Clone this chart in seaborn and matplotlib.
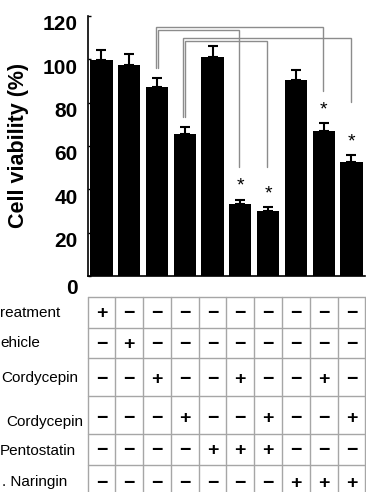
import numpy as np
import pandas as pd
import matplotlib
matplotlib.use("Agg")
import matplotlib.pyplot as plt
import matplotlib.transforms as mtransforms
import seaborn as sns

# ---------------- data ----------------
groups = ["1", "2", "3", "4", "5", "6", "7", "8", "9", "10"]
viability = [99.5, 97.5, 87.1, 65.4, 100.9, 33.2, 29.8, 90.5, 67.1, 52.6]
errors = [5.0, 5.0, 4.5, 3.4, 5.4, 1.9, 2.0, 4.7, 3.4, 3.1]
significant = [False, False, False, False, False, True, True, False, True, True]

# brackets: (from group index, to group index, top level, left end, right end)
bracket_from = [2, 2, 3, 3]
bracket_to = [8, 5, 9, 6]
bracket_top = [115.1, 113.5, 110.0, 108.5]
bracket_left_end = [96.1, 96.1, 73.5, 73.5]
bracket_right_end = [85.4, 50.3, 80.4, 50.3]

y_ticks = [0, 20, 40, 60, 80, 100, 120]
y_label = "Cell viability (%)"

row_labels = ["reatment", "ehicle", "Cordycepin", "Cordycepin", "Pentostatin", ". Naringin"]
row_no_treatment = [1, 0, 0, 0, 0, 0, 0, 0, 0, 0]
row_vehicle = [0, 1, 0, 0, 0, 0, 0, 0, 0, 0]
row_cordycepin_a = [0, 0, 1, 0, 0, 1, 0, 0, 1, 0]
row_cordycepin_b = [0, 0, 0, 1, 0, 0, 1, 0, 0, 1]
row_pentostatin = [0, 0, 0, 0, 1, 1, 1, 0, 0, 0]
row_naringin = [0, 0, 0, 0, 0, 0, 0, 1, 1, 1]
table_rows = [row_no_treatment, row_vehicle, row_cordycepin_a,
              row_cordycepin_b, row_pentostatin, row_naringin]

# ---------------- style / layout ----------------
sns.set_style("ticks")
plt.rcParams["font.family"] = ["Liberation Sans", "DejaVu Sans"]
plt.rcParams["text.color"] = "black"
plt.rcParams["axes.labelcolor"] = "black"
plt.rcParams["ytick.color"] = "black"
plt.rcParams["xtick.color"] = "black"
plt.rcParams["axes.edgecolor"] = "black"

W, H = 366, 492
fig = plt.figure(figsize=(W / 100, H / 100), dpi=100)

ax_l, ax_r, ax_t_px, ax_b_px = 87.5, 365.3, 16.0, 276.0
ax = fig.add_axes([ax_l / W, 1 - ax_b_px / H, (ax_r - ax_l) / W, (ax_b_px - ax_t_px) / H])

df = pd.DataFrame({"group": groups, "viability": viability})
sns.barplot(data=df, x="group", y="viability", order=groups, color="black",
            saturation=1, width=0.8, errorbar=None, ax=ax, linewidth=0)

xpos = np.arange(len(groups))
ax.errorbar(xpos, viability, yerr=[np.zeros(len(errors)), errors], fmt="none",
            ecolor="black", elinewidth=1.5, capsize=3.5, capthick=1.5, zorder=3)

ax.set_xlim(-0.5, 9.5)
ax.set_ylim(0, 120)
ax.set_yticks(y_ticks)
ax.set_yticklabels([str(t) for t in y_ticks], fontsize=15, fontweight="bold", color="black")
ax.set_xticks([])
ax.set_xlabel("")
ax.set_ylabel(y_label, fontsize=15.5, fontweight="bold", color="black")
ax.yaxis.set_label_coords(-0.25, 0.504)
ax.yaxis.label.set_va("center")
ax.tick_params(axis="y", direction="in", length=2.5, width=1, pad=7.0, colors="black")
sns.despine(ax=ax)
for s in ("left", "bottom"):
    ax.spines[s].set_linewidth(1.2)
    ax.spines[s].set_color("black")

# significance stars
for i, (v, e, sig) in enumerate(zip(viability, errors, significant)):
    if sig:
        ax.text(i, v + e + 4.2, "*", ha="center", va="baseline", fontsize=14, color="black")

# brackets
gray = "#8c8c8c"
for k, (a, b, top, le, re) in enumerate(zip(bracket_from, bracket_to, bracket_top,
                                            bracket_left_end, bracket_right_end)):
    xa = a + (-0.05 if b - a > 3 else 0.02)
    xb = b - 0.03
    ax.plot([xa, xa, xb, xb], [le, top, top, re], color=gray, lw=1.0,
            solid_joinstyle="miter", clip_on=False, zorder=4)

# tick label shift downward
for lab in ax.get_yticklabels():
    dy = -0.105 if lab.get_text() == "0" else -0.068
    lab.set_transform(lab.get_transform() + mtransforms.ScaledTranslation(0, dy, fig.dpi_scale_trans))

# ---------------- table ----------------
tbl_top = 296.7
row_edges = [296.7, 327.7, 358.3, 396.0, 434.0, 465.0, 492.0]
sym_y = [314.0, 345.0, 380.0, 418.5, 450.5, 484.0]
lab_y = [313.5, 343.5, 378.0, 422.0, 451.0, 482.5]
lab_x = [0.0, 0.5, 1.7, 6.0, 0.0, 1.7]

axt = fig.add_axes([ax_l / W, 0, (ax_r - ax_l) / W, (H - tbl_top) / H])
axt.set_xlim(-0.5, 9.5)
axt.set_ylim(H, tbl_top)
axt.axis("off")
grid_c = "#a6a6a6"
for yb in row_edges[:-1]:
    axt.plot([-0.5, 9.5], [yb, yb], color=grid_c, lw=1.0, clip_on=False)
for xb in np.arange(-0.5, 10.0, 1.0):
    axt.plot([xb, xb], [tbl_top, H], color=grid_c, lw=1.0, clip_on=False)

for r, row in enumerate(table_rows):
    for c, val in enumerate(row):
        axt.text(c, sym_y[r], "+" if val else "\u2212", ha="center", va="center",
                 fontsize=14, fontweight="bold", color="black")

blend = mtransforms.blended_transform_factory(fig.transFigure, axt.transData)
for r, lab in enumerate(row_labels):
    axt.text(lab_x[r] / W, lab_y[r], lab, transform=blend, ha="left", va="center",
             fontsize=11, color="black")

fig.savefig("out.png", dpi=100)
